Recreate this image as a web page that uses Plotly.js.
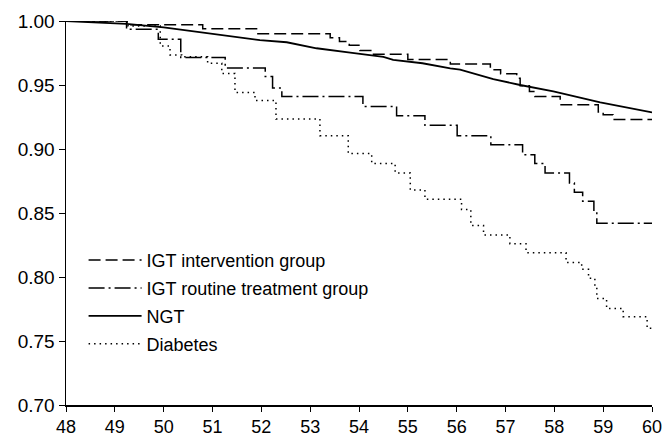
<!DOCTYPE html>
<html>
<head>
<meta charset="utf-8">
<script src="https://cdn.plot.ly/plotly-3.0.1.min.js"></script>
<style>html,body{margin:0;padding:0;background:#fff;}#chart{width:662px;height:437px;}</style>
</head>
<body>
<div id="chart"></div>
<script>
// IGT intervention group (step curve)
const interventionX = [48, 49.25, 50.8, 51.93, 53.41, 53.6, 53.8, 54.02, 54.26, 55.0, 55.87, 56.69, 56.9, 57.23, 57.3, 57.49, 57.6, 58.12, 58.9, 59.0, 59.2, 60];
const interventionY = [1.0, 0.997, 0.994, 0.990, 0.987, 0.984, 0.981, 0.977, 0.974, 0.970, 0.9665, 0.962, 0.9587, 0.9553, 0.9494, 0.945, 0.941, 0.9346, 0.929, 0.9268, 0.923, 0.923];

// IGT routine treatment group (step curve)
const routineX = [48, 49.24, 49.89, 50.35, 51.26, 52.08, 52.23, 52.42, 54.08, 54.77, 55.35, 56.01, 56.7, 57.35, 57.6, 57.81, 58.31, 58.41, 58.58, 58.81, 58.87, 60];
const routineY = [1.0, 0.9935, 0.9857, 0.9714, 0.9632, 0.9566, 0.9476, 0.941, 0.9333, 0.926, 0.9185, 0.9104, 0.9034, 0.8956, 0.8886, 0.8813, 0.8735, 0.8663, 0.8592, 0.8514, 0.842, 0.842];

// NGT
const ngtX = [48, 48.5, 49.24, 50, 50.6, 51.3, 51.97, 52.52, 53.13, 53.82, 54.5, 54.7, 55.3, 55.87, 56.07, 56.75, 57.3, 57.98, 58.94, 60];
const ngtY = [1.0, 0.999, 0.9977, 0.995, 0.992, 0.988, 0.985, 0.9834, 0.9787, 0.9753, 0.972, 0.9696, 0.967, 0.963, 0.962, 0.9546, 0.950, 0.945, 0.9364, 0.9286];

// Diabetes (step curve)
const diabetesX = [48, 49.27, 49.93, 50.13, 50.37, 50.9, 51.19, 51.46, 51.87, 52.3, 53.2, 53.78, 54.26, 54.74, 55.05, 55.35, 56.1, 56.29, 56.55, 57.09, 57.42, 58.24, 58.56, 58.7, 58.83, 58.87, 59.07, 59.41, 59.9, 60];
const diabetesY = [1.0, 0.996, 0.9805, 0.9735, 0.972, 0.967, 0.959, 0.9442, 0.9379, 0.9234, 0.9104, 0.8964, 0.8886, 0.8813, 0.868, 0.8608, 0.8527, 0.8403, 0.8328, 0.826, 0.819, 0.8114, 0.806, 0.799, 0.792, 0.7832, 0.7754, 0.769, 0.760, 0.760];

const seriesNames = ["IGT intervention group", "IGT routine treatment group", "NGT", "Diabetes"];
const yTickVals = [0.70, 0.75, 0.80, 0.85, 0.90, 0.95, 1.00];
const xTickVals = [48, 49, 50, 51, 52, 53, 54, 55, 56, 57, 58, 59, 60];

const FONT = "Liberation Sans, Arial, Helvetica, sans-serif";

const traces = [
  {x: interventionX, y: interventionY, name: seriesNames[0], legendgroup: "g1", mode: "lines",
   line: {color: "#000", width: 1.5, shape: "hv", dash: "12px,5px"}},
  {x: routineX, y: routineY, name: seriesNames[1], legendgroup: "g2", mode: "lines",
   line: {color: "#000", width: 1.5, shape: "hv", dash: "16px,4px,2px,4px"}},
  {x: ngtX, y: ngtY, name: seriesNames[2], legendgroup: "g3", mode: "lines",
   line: {color: "#000", width: 1.8, shape: "linear"}},
  {x: diabetesX, y: diabetesY, name: seriesNames[3], legendgroup: "g4", mode: "lines",
   line: {color: "#000", width: 1.5, shape: "hv", dash: "1.5px,4px"}}
];

const layout = {
  width: 662, height: 437,
  margin: {l: 66, r: 10, t: 21, b: 32, pad: 0},
  paper_bgcolor: "#fff", plot_bgcolor: "#fff",
  font: {family: FONT, color: "#000", size: 18},
  showlegend: true,
  legend: {x: 0.03, y: 0.425, xanchor: "left", yanchor: "top",
           bgcolor: "rgba(0,0,0,0)", borderwidth: 0, itemwidth: 53,
           tracegroupgap: 1.5, traceorder: "grouped",
           font: {family: FONT, size: 18, color: "#000"}},
  xaxis: {range: [48, 60], tickvals: xTickVals, ticktext: xTickVals.map(String),
          showline: true, linecolor: "#000", linewidth: 1.5, showgrid: false, zeroline: false,
          ticks: "outside", ticklen: 5, tickwidth: 1, tickcolor: "#000",
          ticklabeloverflow: "allow",
          tickfont: {family: FONT, size: 18, color: "#000"}, fixedrange: true},
  yaxis: {range: [0.70, 1.00], tickvals: yTickVals, ticktext: yTickVals.map(v => v.toFixed(2)),
          showline: true, linecolor: "#000", linewidth: 1.5, showgrid: false, zeroline: false,
          ticks: "outside", ticklen: 6, tickwidth: 1, tickcolor: "#000",
          tickfont: {family: FONT, size: 19, color: "#000"}, fixedrange: true}
};

Plotly.newPlot("chart", traces, layout, {displayModeBar: false, staticPlot: true});
</script>
</body>
</html>
